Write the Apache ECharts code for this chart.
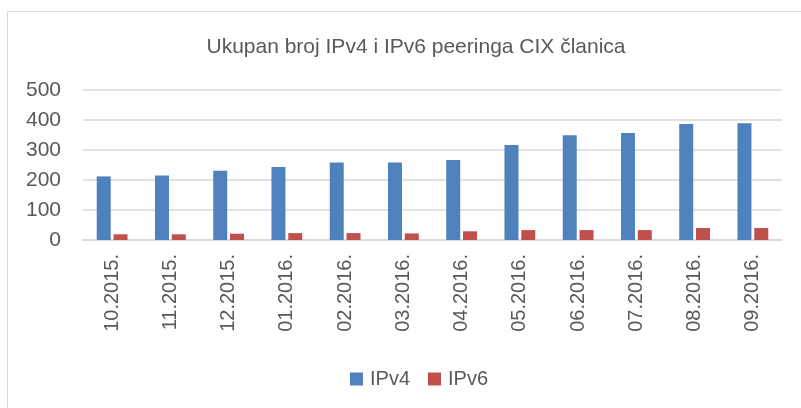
<!DOCTYPE html>
<html>
<head>
<meta charset="utf-8">
<script src="https://cdn.jsdelivr.net/npm/echarts@6/dist/echarts.min.js"></script>
<style>
  html, body { margin: 0; padding: 0; background: #ffffff; }
  #chart { width: 801px; height: 408px; }
</style>
</head>
<body>
<div id="chart"></div>
<script>
// data
var months = ['10.2015.', '11.2015.', '12.2015.', '01.2016.', '02.2016.', '03.2016.',
              '04.2016.', '05.2016.', '06.2016.', '07.2016.', '08.2016.', '09.2016.'];
var ipv4 = [212, 215, 231, 243, 258, 258, 267, 317, 349, 357, 387, 389];
var ipv6 = [19, 19, 21, 23, 23, 22, 29, 33, 33, 33, 40, 40];
var yTicks = [0, 100, 200, 300, 400, 500];

var textColor = '#595959';
var fontName = '"Liberation Sans", Arial, sans-serif';

var chart = echarts.init(document.getElementById('chart'));

var option = {
  animation: false,
  backgroundColor: '#ffffff',
  textStyle: { fontFamily: fontName, color: textColor },
  graphic: [{
    type: 'rect',
    silent: true,
    shape: { x: 7.5, y: 11.5, width: 830, height: 430 },
    style: { fill: 'none', stroke: '#d9d9d9', lineWidth: 1 }
  }],
  title: {
    text: 'Ukupan broj IPv4 i IPv6 peeringa CIX članica',
    left: 411,
    top: 32,
    textAlign: 'center',
    textStyle: { fontFamily: fontName, fontSize: 21, fontWeight: 'normal', color: textColor }
  },
  legend: {
    left: 345,
    top: 364,
    itemWidth: 13,
    itemHeight: 13,
    itemGap: 18,
    icon: 'rect',
    textStyle: { fontFamily: fontName, fontSize: 20, color: textColor, padding: [0, 0, 0, 2] },
    data: ['IPv4', 'IPv6']
  },
  grid: { left: 83, right: 19, top: 90, bottom: 168, containLabel: false },
  xAxis: {
    type: 'category',
    data: months,
    axisTick: { show: false },
    axisLine: { show: true, lineStyle: { color: '#d9d9d9', width: 1.5 } },
    axisLabel: { rotate: 90, margin: 14, fontSize: 20, color: textColor, fontFamily: fontName }
  },
  yAxis: {
    type: 'value',
    min: yTicks[0],
    max: yTicks[yTicks.length - 1],
    interval: 100,
    axisLine: { show: false },
    axisTick: { show: false },
    splitLine: { lineStyle: { color: '#d9d9d9', width: 1.5 } },
    axisLabel: { margin: 22, fontSize: 21, color: textColor, fontFamily: fontName }
  },
  series: [
    {
      name: 'IPv4',
      type: 'bar',
      data: ipv4,
      barWidth: 14,
      barGap: '20%',
      itemStyle: { color: '#4f81bd' }
    },
    {
      name: 'IPv6',
      type: 'bar',
      data: ipv6,
      barWidth: 14,
      itemStyle: { color: '#c0504d' }
    }
  ]
};

chart.setOption(option);
</script>
</body>
</html>
